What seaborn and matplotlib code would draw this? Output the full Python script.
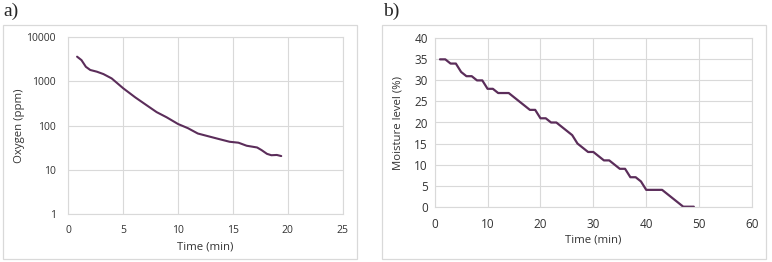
import matplotlib
matplotlib.use('Agg')
import matplotlib.pyplot as plt
from matplotlib.patches import Rectangle
import numpy as np
import pandas as pd
import seaborn as sns

# Panel a: oxygen concentration (log scale)
oxygen_time = [0.8, 1.2, 1.6, 2.0, 2.6, 3.2, 3.95, 5.0, 6.1, 7.1, 8.05, 8.96, 10.0,
               10.9, 11.8, 12.9, 13.8, 14.7, 15.5, 16.25, 17.2, 17.6, 18.1, 18.5, 19.0, 19.4]
oxygen_ppm = [3550, 2970, 2100, 1780, 1630, 1440, 1150, 690, 430, 290, 200, 153, 108,
              87, 66, 56, 49, 43, 41, 35, 32, 28, 23, 21.4, 21.7, 20.5]

# Panel b: moisture level
moisture_time = list(range(1, 50))
moisture_pct = [35, 35, 34, 34, 32, 31, 31, 30, 30, 28, 28, 27, 27, 27, 26, 25, 24, 23, 23, 21,
                21, 20, 20, 19, 18, 17, 15, 14, 13, 13, 12, 11, 11, 10, 9, 9, 7, 7, 6, 4,
                4, 4, 4, 3, 2, 1, 0, 0, 0]

sns.set_style('white')
plt.rcParams['font.family'] = ['Open Sans', 'DejaVu Sans']

W, H = 772, 262
line_color = '#5B2D5A'
grid_color = '#D9D9D9'
text_color = '#333333'

fig = plt.figure(figsize=(W / 100, H / 100), dpi=100)

def px_axes(l, t, r, b):
    return fig.add_axes([l / W, 1 - b / H, (r - l) / W, (b - t) / H])

def frame(l, t, r, b):
    fig.patches.append(Rectangle((l / W, 1 - b / H), (r - l) / W, (b - t) / H,
                                 transform=fig.transFigure, fill=False,
                                 edgecolor=grid_color, linewidth=0.9))

def style(ax):
    ax.grid(True, color=grid_color, linewidth=0.8)
    for s in ax.spines.values():
        s.set_color(grid_color)
        s.set_linewidth(0.8)
    ax.tick_params(length=0, colors=text_color)

frame(3, 25, 357, 259)
frame(382, 25, 766, 259)

# a) oxygen
ax1 = px_axes(68.3, 36.7, 342.7, 214.3)
df_a = pd.DataFrame({'t': oxygen_time, 'o': oxygen_ppm})
sns.lineplot(data=df_a, x='t', y='o', ax=ax1, color=line_color, linewidth=1.5, sort=False)
ax1.set_yscale('log')
ax1.set_ylim(1, 10000)
ax1.set_xlim(0, 25)
ax1.set_xticks([0, 5, 10, 15, 20, 25])
ax1.set_yticks([1, 10, 100, 1000, 10000])
ax1.set_yticklabels(['1', '10', '100', '1000', '10000'])
ax1.minorticks_off()
ax1.set_xlabel('Time (min)', fontsize=8.2, color=text_color, labelpad=4)
ax1.set_ylabel('Oxygen (ppm)', fontsize=8.2, color=text_color)
ax1.yaxis.set_label_coords(-0.158, 0.5)
style(ax1)
ax1.tick_params(axis='y', pad=9, labelsize=7.5)
ax1.tick_params(axis='x', pad=8, labelsize=7.5)

# b) moisture
ax2 = px_axes(434.7, 38.3, 752, 206.7)
df_b = pd.DataFrame({'t': moisture_time, 'm': moisture_pct})
sns.lineplot(data=df_b, x='t', y='m', ax=ax2, color=line_color, linewidth=1.6)
ax2.set_xlim(0, 60)
ax2.set_ylim(0, 40)
ax2.set_xticks(range(0, 61, 10))
ax2.set_yticks(range(0, 41, 5))
ax2.set_xlabel('Time (min)', fontsize=8.2, color=text_color, labelpad=3)
ax2.set_ylabel('Moisture level (%)', fontsize=8.2, color=text_color)
ax2.yaxis.set_label_coords(-0.097, 0.5)
style(ax2)
ax2.tick_params(axis='y', pad=5, labelsize=8.5)
ax2.tick_params(axis='x', pad=8, labelsize=8.5)

fig.text(3 / W, 1 - 3 / H, 'a)', family='Liberation Serif', fontsize=14, va='top', ha='left')
fig.text(383 / W, 1 - 3 / H, 'b)', family='Liberation Serif', fontsize=14, va='top', ha='left')

fig.savefig('out.png', dpi=100)
